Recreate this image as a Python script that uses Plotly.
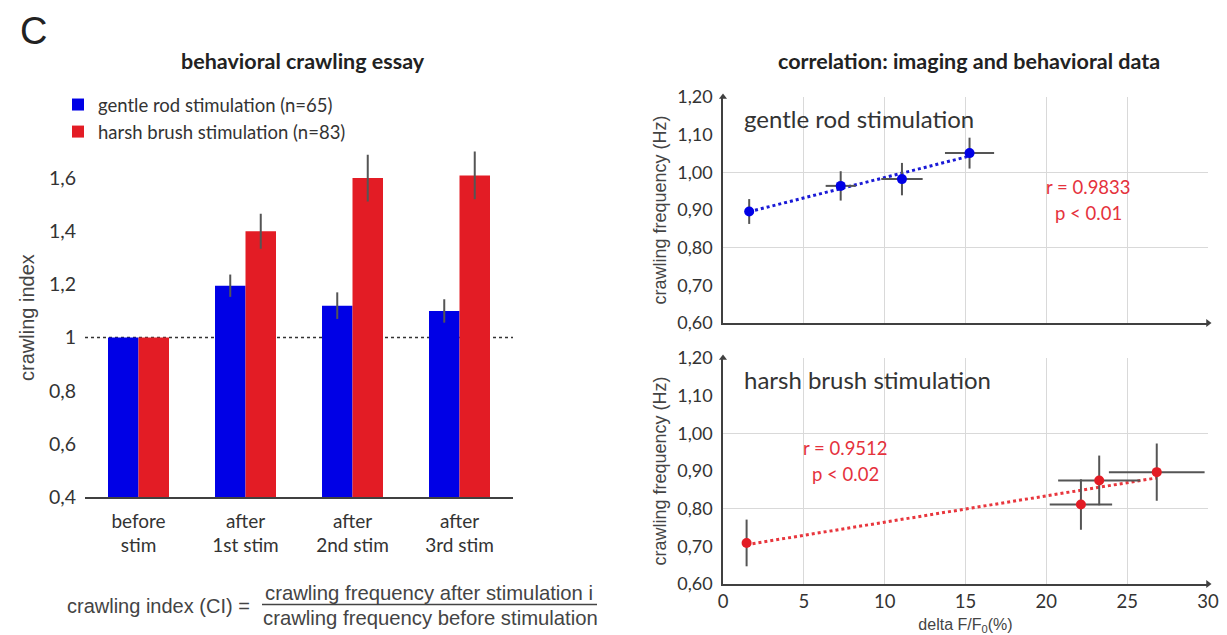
import numpy as np
import plotly.graph_objects as go

# ---------------- data ----------------
categories = ["before<br>stim", "after<br>1st stim", "after<br>2nd stim", "after<br>3rd stim"]
gentle_ci = [1.0, 1.195, 1.12, 1.10]
gentle_ci_err = [0.0, 0.042, 0.05, 0.044]
harsh_ci = [1.0, 1.40, 1.60, 1.61]
harsh_ci_err = [0.0, 0.066, 0.088, 0.09]
baseline_ci = 1.0
ci_tickvals = [0.4, 0.6, 0.8, 1.0, 1.2, 1.4, 1.6]
ci_ticktext = ["0,4", "0,6", "0,8", "1", "1,2", "1,4", "1,6"]

gentle_dff = [1.62, 7.28, 11.07, 15.25]
gentle_dff_err = [0.0, 0.93, 1.28, 1.52]
gentle_freq = [0.896, 0.964, 0.982, 1.051]
gentle_freq_err = [0.033, 0.039, 0.043, 0.041]

harsh_dff = [1.46, 22.14, 23.27, 26.83]
harsh_dff_err = [0.0, 1.93, 2.54, 2.96]
harsh_freq = [0.709, 0.811, 0.875, 0.897]
harsh_freq_err = [0.062, 0.067, 0.066, 0.076]

freq_range = [0.6, 1.2]
dff_range = [0, 30]
freq_tickvals = [0.6, 0.7, 0.8, 0.9, 1.0, 1.1, 1.2]
freq_ticktext = ["0,60", "0,70", "0,80", "0,90", "1,00", "1,10", "1,20"]
freq_gridvals = [0.8, 1.0, 1.2]
dff_tickvals = [0, 5, 10, 15, 20, 25, 30]
dff_ticktext = ["0", "5", "10", "15", "20", "25", "30"]

gentle_stats = ["r = 0.9833", "p < 0.01"]
harsh_stats = ["r = 0.9512", "p < 0.02"]

# ---------------- style ----------------
OFF = 8                      # browser body margin offset
W, H = 1227 - OFF, 635 - OFF
BLUE = "#0000e6"
RED = "#e31c25"
STAT_RED = "#e5323c"
ERR = "#555555"
AXIS = "#404040"
TXT = "#333333"
GRID = "#d9d9d9"
CAL = "Lato, Carlito, sans-serif"
ARI = "Liberation Sans, Arial, sans-serif"


def px(x):
    return (x - OFF) / W


def py(y):
    return 1 - (y - OFF) / H


def xd(a, b):
    return [px(a), px(b)]


def yd(top, bottom):
    return [py(bottom), py(top)]


fig = go.Figure()

# bars
fig.add_trace(go.Bar(
    x=categories, y=gentle_ci, name="gentle rod stimulation (n=65)",
    marker=dict(color=BLUE, line=dict(width=0)),
    error_y=dict(type="data", array=gentle_ci_err, color=ERR, thickness=2, width=0),
    xaxis="x", yaxis="y"))
fig.add_trace(go.Bar(
    x=categories, y=harsh_ci, name="harsh brush stimulation (n=83)",
    marker=dict(color=RED, line=dict(width=0)),
    error_y=dict(type="data", array=harsh_ci_err, color=ERR, thickness=2, width=0),
    xaxis="x", yaxis="y"))

# trend lines (least-squares fits of the data)
for xs, ys, col, xa, ya in [(gentle_dff, gentle_freq, "#1a1ad6", "x2", "y2"),
                            (harsh_dff, harsh_freq, "#e8363d", "x3", "y3")]:
    k, b = np.polyfit(xs, ys, 1)
    lx = np.array([min(xs), max(xs)])
    fig.add_trace(go.Scatter(x=lx, y=k * lx + b, mode="lines",
                             line=dict(color=col, width=3, dash="dot"),
                             showlegend=False, hoverinfo="skip", xaxis=xa, yaxis=ya))

# scatter points with error bars
fig.add_trace(go.Scatter(
    x=gentle_dff, y=gentle_freq, mode="markers",
    marker=dict(color=BLUE, size=10),
    error_x=dict(type="data", array=gentle_dff_err, color=ERR, thickness=2, width=0),
    error_y=dict(type="data", array=gentle_freq_err, color=ERR, thickness=2, width=0),
    showlegend=False, xaxis="x2", yaxis="y2"))
fig.add_trace(go.Scatter(
    x=harsh_dff, y=harsh_freq, mode="markers",
    marker=dict(color=RED, size=10),
    error_x=dict(type="data", array=harsh_dff_err, color=ERR, thickness=2, width=0),
    error_y=dict(type="data", array=harsh_freq_err, color=ERR, thickness=2, width=0),
    showlegend=False, xaxis="x3", yaxis="y3"))

# axis arrowheads at the ends of the scatter axes
for xa, ya in [("x2", "y2"), ("x3", "y3")]:
    fig.add_trace(go.Scatter(x=[dff_range[0]], y=[freq_range[1]], mode="markers",
                             marker=dict(symbol="triangle-up", size=7, color=AXIS),
                             cliponaxis=False, showlegend=False, hoverinfo="skip",
                             xaxis=xa, yaxis=ya))
    fig.add_trace(go.Scatter(x=[dff_range[1]], y=[freq_range[0]], mode="markers",
                             marker=dict(symbol="triangle-right", size=7, color=AXIS),
                             cliponaxis=False, showlegend=False, hoverinfo="skip",
                             xaxis=xa, yaxis=ya))

# ---------------- axes ----------------
layout = dict(
    width=W, height=H, margin=dict(l=0, r=0, t=0, b=0),
    paper_bgcolor="white", plot_bgcolor="white",
    barmode="group", bargap=0.43, bargroupgap=0,
    font=dict(family=CAL, color=TXT),
    showlegend=True,
    legend=dict(x=px(58), y=py(86), xanchor="left", yanchor="top",
                font=dict(family=CAL, size=18.5, color=TXT),
                bgcolor="rgba(0,0,0,0)", tracegroupgap=0, itemwidth=30),
)

layout["xaxis"] = dict(domain=xd(85, 513), range=[-0.5, 3.5], anchor="y",
                       showline=True, linecolor=AXIS, linewidth=1.5, ticks="",
                       showgrid=False, tickfont=dict(family=CAL, size=19, color=TXT),
                       ticklabelstandoff=6,
                       automargin=False, fixedrange=True)
layout["yaxis"] = dict(domain=yd(138.2, 497), range=[0.4, 1.75], anchor="x",
                       showline=False, showgrid=False, zeroline=False, ticks="",
                       tickvals=ci_tickvals, ticktext=ci_ticktext,
                       tickfont=dict(family=CAL, size=19.5, color=TXT),
                       ticklabelstandoff=8,
                       title=dict(text="crawling index", font=dict(family=ARI, size=20, color="#444"),
                                  standoff=8),
                       automargin=False)

for i, (top, bot, show_x) in zip((2, 3), [(97, 323, False), (358, 584, True)]):
    layout[f"xaxis{i}"] = dict(domain=xd(723, 1208), range=dff_range, anchor=f"y{i}",
                               showline=True, linecolor=AXIS, linewidth=1.5,
                               ticks="", tickvals=dff_tickvals, ticktext=dff_ticktext,
                               showticklabels=show_x, showgrid=True, gridcolor=GRID,
                               gridwidth=1, zeroline=False,
                               tickfont=dict(family=CAL, size=18.5, color=TXT),
                               automargin=False)
    layout[f"yaxis{i}"] = dict(domain=yd(top, bot), range=freq_range, anchor=f"x{i}",
                               showline=True, linecolor=AXIS, linewidth=1.5,
                               ticks="", tickvals=freq_tickvals, ticktext=freq_ticktext,
                               showgrid=False, zeroline=False,
                               minor=dict(tickvals=freq_gridvals, showgrid=True,
                                          gridcolor=GRID, gridwidth=1, ticks=""),
                               tickfont=dict(family=CAL, size=18, color=TXT),
                               ticklabelstandoff=5,
                               title=dict(text="crawling frequency (Hz)",
                                          font=dict(family=ARI, size=18, color="#444"),
                                          standoff=6),
                               automargin=False)
layout["xaxis3"]["title"] = dict(text="delta F/F<sub>0</sub>(%)",
                                 font=dict(family=ARI, size=16, color="#444"), standoff=10)

fig.update_layout(**layout)

# baseline reference line in the bar chart
fig.add_shape(type="line", xref="x domain", yref="y", x0=0, x1=1,
              y0=baseline_ci, y1=baseline_ci, layer="below",
              line=dict(color="#333", width=1.5, dash="dot"))

# fraction bar of the formula
fig.add_shape(type="line", xref="paper", yref="paper", x0=px(262), x1=px(597),
              y0=py(604.5), y1=py(604.5), line=dict(color="#444", width=1.5))

ann = []


def pa(text, x, y, size, family=CAL, color=TXT, bold=False, xanchor="center"):
    ann.append(dict(text=f"<b>{text}</b>" if bold else text, x=px(x), y=py(y),
                    xref="paper", yref="paper", xanchor=xanchor, yanchor="middle",
                    showarrow=False, font=dict(family=family, size=size, color=color)))


pa("C", 33, 31, 38, family=ARI, color="#222")
pa("behavioral crawling essay", 303, 61, 21.5, bold=True, color="#222")
pa("correlation: imaging and behavioral data", 969, 61, 21.5, bold=True, color="#222")
pa("crawling index (CI) =", 252, 606, 20, family=ARI, color="#444", xanchor="right")
pa("crawling frequency after stimulation i", 429, 593, 20.3, family=ARI, color="#444")
pa("crawling frequency before stimulation", 430, 618, 20.3, family=ARI, color="#444")

# inside-panel labels (data coordinates of each panel)
for xa, ya, label, stats, sx in [("x2", "y2", "gentle rod stimulation", gentle_stats, 22.6),
                                 ("x3", "y3", "harsh brush stimulation", harsh_stats, 7.6)]:
    ann.append(dict(text=label, x=1.15, y=1.143, xref=xa, yref=ya, xanchor="left",
                    yanchor="middle", showarrow=False,
                    font=dict(family=CAL, size=24, color=TXT)))
    for txt, yy in zip(stats, [0.961, 0.892]):
        ann.append(dict(text=txt, x=sx, y=yy, xref=xa, yref=ya, xanchor="center",
                        yanchor="middle", showarrow=False,
                        font=dict(family=CAL, size=18.5, color=STAT_RED)))

fig.update_layout(annotations=ann)
fig.write_html("out.html")
